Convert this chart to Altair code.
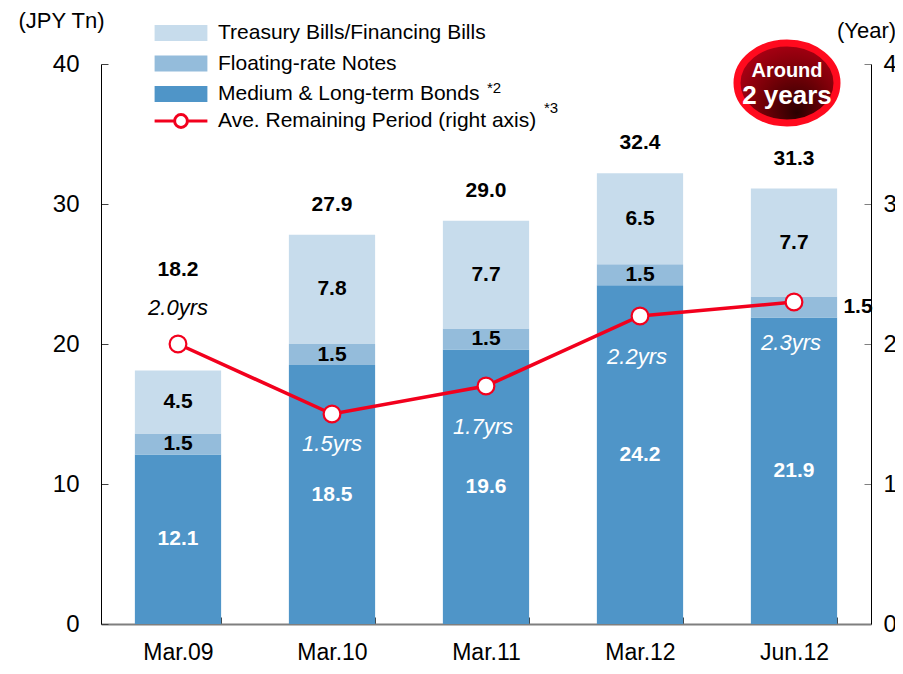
import altair as alt
import pandas as pd

# ---------------- data ----------------
periods = ["Mar.09", "Mar.10", "Mar.11", "Mar.12", "Jun.12"]
medium_long = [12.1, 18.5, 19.6, 24.2, 21.9]
floating = [1.5, 1.5, 1.5, 1.5, 1.5]
treasury = [4.5, 7.8, 7.7, 6.5, 7.7]
total_labels = ["18.2", "27.9", "29.0", "32.4", "31.3"]
avg_years = [2.0, 1.5, 1.7, 2.2, 2.3]

series_names = ["Treasury Bills/Financing Bills", "Floating-rate Notes", "Medium & Long-term Bonds"]
series_colors = ["#c7dcec", "#94bcdb", "#4f95c8"]
line_name = "Ave. Remaining Period (right axis)"
RED = "#f2001d"
FONT = "Liberation Sans"

# ---------------- tables ----------------
rows = []
for i, p in enumerate(periods):
    start = 0.0
    for name, vals in [(series_names[2], medium_long), (series_names[1], floating), (series_names[0], treasury)]:
        v = vals[i]
        rows.append({"period": p, "series": name, "start": start, "end": start + v,
                     "mid": start + v / 2, "label": f"{v:.1f}"})
        start += v
bars_df = pd.DataFrame(rows)

tot_df = pd.DataFrame({"period": periods,
                       "top": [m + f + t for m, f, t in zip(medium_long, floating, treasury)],
                       "label": total_labels})
line_df = pd.DataFrame({"period": periods, "years": avg_years,
                        "label": [f"{v:.1f}yrs" for v in avg_years],
                        "series": [line_name] * len(periods)})

# ---------------- scales / axes ----------------
x_enc = alt.X("period:N", sort=periods,
              scale=alt.Scale(paddingInner=0.44, paddingOuter=0.22),
              axis=alt.Axis(title=None, labelAngle=0, labelFontSize=23, labelColor="black",
                            labelPadding=24, tickBand="extent", tickSize=alt.ExprRef(expr="-7"),
                            tickColor="#404040", domainColor="#7f7f7f", domainWidth=2))

left_scale = alt.Scale(domain=[0, 40], nice=False)
left_axis = alt.Axis(values=[0, 10, 20, 30, 40], title="(JPY Tn)", titleAngle=0,
                     titleX=-40, titleY=-44, titleAlign="center", titleBaseline="middle",
                     titleFontSize=22, titleFontWeight="normal", titleColor="black",
                     grid=False, labelFontSize=24, labelColor="black", labelPadding=29,
                     tickSize=alt.ExprRef(expr="-7"), tickColor="#404040", domainColor="black")
right_scale = alt.Scale(domain=[0, 4], nice=False)
right_axis = alt.Axis(orient="right", values=[0, 1, 2, 3, 4], title="(Year)", titleAngle=0,
                      titleX=-5, titleY=-34, titleAlign="center", titleBaseline="middle",
                      titleFontSize=22, titleFontWeight="normal", titleColor="black",
                      grid=False, labelFontSize=24, labelColor="black", labelPadding=19,
                      tickSize=alt.ExprRef(expr="-7"), tickColor="#808080", domainColor="black")


def yl(field):
    return alt.Y(field, scale=left_scale, axis=left_axis)


def yr(field):
    return alt.Y(field, scale=right_scale, axis=right_axis)


# ---------------- left layers ----------------
bars = alt.Chart(bars_df).mark_bar().encode(
    x=x_enc,
    y=yl("start:Q"),
    y2="end:Q",
    color=alt.Color("series:N", scale=alt.Scale(domain=series_names, range=series_colors),
                    legend=alt.Legend(title=None, orient="none", legendX=69.5, legendY=-41.5,
                                      symbolType="M-3.3,-1H3.3V1H-3.3Z", symbolSize=256,
                                      symbolStrokeWidth=0, symbolOpacity=1,
                                      labelFontSize=21, labelFont=FONT, labelColor="black",
                                      labelLimit=0, labelOffset=26.5, rowPadding=8.5, padding=0)),
)

lbl_style = dict(font=FONT, fontSize=21, fontWeight="bold", baseline="middle")
ml_labels = alt.Chart(bars_df).transform_filter(
    alt.datum.series == series_names[2]).mark_text(color="white", **lbl_style).encode(
    x=x_enc, y=yl("mid:Q"), text="label:N")
frn_labels = alt.Chart(bars_df).transform_filter(
    (alt.datum.series == series_names[1]) & (alt.datum.period != "Jun.12")).mark_text(
    color="black", **lbl_style).encode(x=x_enc, y=yl("mid:Q"), text="label:N")
frn_last = alt.Chart(bars_df).transform_filter(
    (alt.datum.series == series_names[1]) & (alt.datum.period == "Jun.12")).mark_text(
    color="black", dx=64, **lbl_style).encode(x=x_enc, y=yl("mid:Q"), text="label:N")
tb_labels = alt.Chart(bars_df).transform_filter(
    alt.datum.series == series_names[0]).mark_text(color="black", **lbl_style).encode(
    x=x_enc, y=yl("mid:Q"), text="label:N")
tot_first = alt.Chart(tot_df).transform_filter(alt.datum.period == "Mar.09").mark_text(
    color="black", dy=-101, **lbl_style).encode(x=x_enc, y=yl("top:Q"), text="label:N")
tot_rest = alt.Chart(tot_df).transform_filter(alt.datum.period != "Mar.09").mark_text(
    color="black", dy=-30, **lbl_style).encode(x=x_enc, y=yl("top:Q"), text="label:N")

left = alt.layer(bars, ml_labels, frn_labels, frn_last, tb_labels, tot_first, tot_rest)

# ---------------- right layers ----------------
line = alt.Chart(line_df).mark_line(strokeWidth=3.5).encode(
    x=x_enc, y=yr("years:Q"),
    stroke=alt.Stroke("series:N", scale=alt.Scale(domain=[line_name], range=[RED]),
                      legend=alt.Legend(title=None, orient="none", legendX=69.5, legendY=46.5,
                                        symbolType="M-3.3,0H-0.8M0.8,0H3.3M0.8,0A0.8,0.8,0,1,1,-0.8,0A0.8,0.8,0,1,1,0.8,0",
                                        symbolSize=256, symbolStrokeWidth=3,
                                        symbolFillColor="white", symbolOpacity=1,
                                        labelFontSize=21, labelFont=FONT, labelColor="black",
                                        labelLimit=0, labelOffset=26.5, padding=0)),
)
points = alt.Chart(line_df).mark_point(filled=True, fill="white", stroke=RED, strokeWidth=2.2,
                                       size=280, opacity=1).encode(x=x_enc, y=yr("years:Q"))
yr_style = dict(font=FONT, fontSize=22, fontStyle="italic", baseline="middle")
yrs_first = alt.Chart(line_df).transform_filter(alt.datum.period == "Mar.09").mark_text(
    color="black", dy=-36, **yr_style).encode(x=x_enc, y=yr("years:Q"), text="label:N")
yrs_second = alt.Chart(line_df).transform_filter(alt.datum.period == "Mar.10").mark_text(
    color="white", dy=30, **yr_style).encode(x=x_enc, y=yr("years:Q"), text="label:N")
yrs_rest = alt.Chart(line_df).transform_filter(
    (alt.datum.period != "Mar.09") & (alt.datum.period != "Mar.10")).mark_text(
    color="white", dy=41, dx=-3, **yr_style).encode(x=x_enc, y=yr("years:Q"), text="label:N")

right = alt.layer(line, points, yrs_first, yrs_second, yrs_rest)

# ---------------- annotations ----------------
one = pd.DataFrame({"a": [0]})
gradient = alt.RadialGradient(gradient="radial",
                              stops=[alt.GradientStop(color="#2a0000", offset=0),
                                     alt.GradientStop(color="#7a0008", offset=0.45),
                                     alt.GradientStop(color="#d0001c", offset=1)],
                              x1=0.6, y1=0.8, r1=0, x2=0.55, y2=0.65, r2=0.8)
badge = alt.Chart(one).mark_point(shape="M-1.25,0A1.25,1,0,1,1,1.25,0A1.25,1,0,1,1,-1.25,0Z",
                                  size=6400, filled=True, fill=gradient, stroke="#ff0a1e",
                                  strokeWidth=7, opacity=1).encode(x=alt.value(686), y=alt.value(19))
badge_t1 = alt.Chart(one).mark_text(text="Around", font=FONT, fontSize=20, fontWeight="bold",
                                    color="white", baseline="middle").encode(
    x=alt.value(686), y=alt.value(7))
badge_t2 = alt.Chart(one).mark_text(text="2 years", font=FONT, fontSize=26, fontWeight="bold",
                                    color="white", baseline="middle").encode(
    x=alt.value(686), y=alt.value(32))
sup2 = alt.Chart(one).mark_text(text="*2", font=FONT, fontSize=15, color="black",
                                baseline="middle", align="left").encode(
    x=alt.value(386), y=alt.value(24))
sup3 = alt.Chart(one).mark_text(text="*3", font=FONT, fontSize=15, color="black",
                                baseline="middle", align="left").encode(
    x=alt.value(443), y=alt.value(44))

chart = alt.layer(left, right, badge, badge_t1, badge_t2, sup2, sup3).resolve_scale(
    y="independent"
).properties(
    width=770, height=560,
    autosize=alt.AutoSizeParams(type="none"),
    padding={"left": 93, "top": 56, "right": 24, "bottom": 42},
).configure_view(stroke=None).configure_axis(
    labelFont=FONT, titleFont=FONT
).configure_legend(labelFont=FONT)

chart.save("out.html", embed_options={"renderer": "svg", "actions": False})
